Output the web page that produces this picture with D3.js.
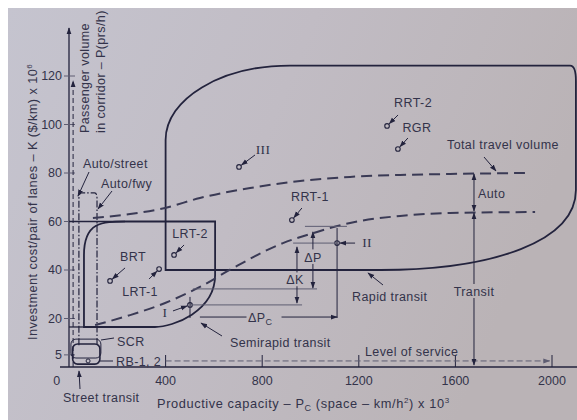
<!DOCTYPE html>
<html><head><meta charset="utf-8">
<script src="https://cdn.jsdelivr.net/npm/d3@7"></script>
<style>html,body{margin:0;padding:0;background:#fff;}svg{display:block}</style>
</head><body><svg id="c" width="577" height="420"></svg>
<script>
// ---------- data (chart units: Pc x10^3 space-km/h^2 , K $/km x10^6) ----------
const xTicks = [400, 800, 1200, 1600, 2000];
const yTicks = [5, 20, 40, 60, 80, 100, 120];
const totalTravelVolume = [[99,61.4],[253,63.1],[398,65.6],[542,69.7],[750,73.8],[957,76.7],[1164,78.4],[1371,79.2],[1578,79.6],[1888,80]];
const transitVolume = [[108,17.3],[253,21.4],[398,26.4],[542,33],[679,40.8],[886,51.1],[1027,55.7],[1164,59.4],[1371,62.3],[1578,63.5],[1930,63.9]];
const modeNames = ["BRT","LRT-1","LRT-2","I","II","III","RRT-1","RRT-2","RGR"];
const modePc    = [170, 373, 435, 501, 1110, 704, 923, 1317, 1362];
const modeK     = [35.5, 40.4, 46.2, 25.6, 51.1, 82.5, 60.6, 99.4, 89.9];
const rbPoint = [79, 2.5];
// region outlines (chart units)
const rapidTransit = [["M",400,40],["L",400,93.6],["C",400,110.5,629,124.3,915,124.3],["L",2075,124.3],["Q",2099,124.3,2099,118],["L",2099,73],["C",2099,52,1760,40,1290,40],["Z"]];
const semirapidTransit = [["M",605,60],["L",232,60],["C",139,60,62,60,62,46.2],["L",62,16.5],["L",356,16.5],["C",431,16.5,605,22.9,605,37.9],["Z"]];
const autoCorridor = [["M",41,9],["L",41,69.5],["Q",41,71.8,52,71.8],["L",106,71.8],["Q",116,71.8,116,69.5],["L",116,9]];
const streetSCR = [8, 132, 3.7, 11.5];
const streetRB  = [15, 128, 1.2, 9.5];
// incremental comparison I -> II
const levelP_I = 32.2, levelP_II = 58;
const levelOfService = [400, 1990, 2.5];

// ---------- scales ----------
const x = d3.scaleLinear().domain([0,2000]).range([69,552]);
const y = d3.scaleLinear().domain([0,120]).range([367,76]);

const svg = d3.select("#c");
const INK = "#23233d", TXT = "#33334a", GREY = "#5e5d72";
const FONT = "'Liberation Sans', Arial, sans-serif";

const defs = svg.append("defs");
const g = defs.append("linearGradient").attr("id","bg").attr("x1","0").attr("x2","1").attr("y1","0").attr("y2","0.3");
g.append("stop").attr("offset","0").attr("stop-color","#c5c4cf");
g.append("stop").attr("offset","0.5").attr("stop-color","#c1bcc4");
g.append("stop").attr("offset","1").attr("stop-color","#bab3b6");
function marker(id, col){
  defs.append("marker").attr("id",id).attr("viewBox","0 0 10 10").attr("refX",9).attr("refY",5)
    .attr("markerWidth",7).attr("markerHeight",7).attr("markerUnits","userSpaceOnUse").attr("orient","auto-start-reverse")
    .append("path").attr("d","M0,1.5L10,5L0,8.5Z").attr("fill",col);
}
marker("ah", INK); marker("ag", GREY);

svg.append("rect").attr("width",577).attr("height",420).attr("fill","#fff");
svg.append("rect").attr("x",8).attr("y",8).attr("width",569).attr("height",412).attr("fill","url(#bg)");

function outline(segs){
  const p = d3.path();
  segs.forEach(s=>{
    const c=s[0], v=s.slice(1);
    if(c==="M") p.moveTo(x(v[0]),y(v[1]));
    else if(c==="L") p.lineTo(x(v[0]),y(v[1]));
    else if(c==="Q") p.quadraticCurveTo(x(v[0]),y(v[1]),x(v[2]),y(v[3]));
    else if(c==="C") p.bezierCurveTo(x(v[0]),y(v[1]),x(v[2]),y(v[3]),x(v[4]),y(v[5]));
    else if(c==="Z") p.closePath();
  });
  return p.toString();
}
function seg(x1,y1,x2,y2,opt={}){
  const l = svg.append("line").attr("x1",x1).attr("y1",y1).attr("x2",x2).attr("y2",y2)
    .attr("stroke",opt.col||INK).attr("stroke-width",opt.w||1);
  if(opt.dash) l.attr("stroke-dasharray",opt.dash);
  if(opt.end) l.attr("marker-end",`url(#${opt.end})`);
  if(opt.start) l.attr("marker-start",`url(#${opt.start})`);
  return l;
}
function text(t,px,py,opt={}){
  return svg.append("text").attr("x",px).attr("y",py).text(t)
    .attr("font-family",opt.serif?"'Liberation Serif', 'Times New Roman', serif":FONT)
    .attr("font-size",opt.size||12.5).attr("fill",TXT).attr("text-anchor",opt.anchor||"start")
    .attr("letter-spacing",opt.ls==null?0.4:opt.ls);
}

// ---------- axes ----------
seg(x(0), y(0), x(0), 28, {w:1.3, end:"ah"});
seg(60, y(0), 577, y(0), {w:1.3});
yTicks.forEach(v=>{ seg(x(0)-5, y(v), x(0)+6, y(v), {col:GREY}); text(v, 62, y(v)+4, {anchor:"end", ls:0}); });
xTicks.forEach(v=>{ seg(x(v), y(0), x(v), y(0)-12, {col:INK}); text(v, x(v), 385, {anchor:"middle", ls:0}); });
text("0", 57, 385, {anchor:"middle"});
// passenger volume axis
seg(x(17), y(0), x(17), y(118), {col:INK, dash:"5,3", end:"ah"});

// y-axis titles
const yt = svg.append("text").attr("transform","translate(37,202) rotate(-90)").attr("text-anchor","middle")
  .attr("font-family",FONT).attr("font-size",12.8).attr("fill",TXT).attr("letter-spacing",0.4);
yt.append("tspan").text("Investment cost/pair of lanes – K ($/km) x 10");
yt.append("tspan").attr("dy",-5).attr("font-size",8).text("6");
text("Passenger volume",0,0).attr("transform","translate(89,133) rotate(-90)");
text("in corridor – P(prs/h)",0,0).attr("transform","translate(105,133) rotate(-90)");
// x-axis title
const xt = svg.append("text").attr("x",157).attr("y",408).attr("font-family",FONT).attr("font-size",12.8).attr("fill",TXT).attr("letter-spacing",0.6);
xt.append("tspan").text("Productive capacity – P");
xt.append("tspan").attr("dy",3).attr("font-size",9).text("C");
xt.append("tspan").attr("dy",-3).text(" (space – km/h");
xt.append("tspan").attr("dy",-5).attr("font-size",8).text("2");
xt.append("tspan").attr("dy",5).text(") x 10");
xt.append("tspan").attr("dy",-5).attr("font-size",8).text("3");

// ---------- regions ----------
svg.append("path").attr("d",outline(rapidTransit)).attr("fill","none").attr("stroke",INK).attr("stroke-width",1.8);
svg.append("path").attr("d",outline(semirapidTransit)).attr("fill","none").attr("stroke",INK).attr("stroke-width",1.8);
seg(x(0), y(60), x(232), y(60), {w:1.3});
seg(x(0), y(16.5), x(62), y(16.5), {w:1.3});
svg.append("path").attr("d",outline(autoCorridor)).attr("fill","none").attr("stroke",INK).attr("stroke-width",1.2).attr("stroke-dasharray","7,2,1.5,2");
[streetSCR, streetRB].forEach((r,i)=>{
  svg.append("rect").attr("x",x(r[0])).attr("y",y(r[3])).attr("width",x(r[1])-x(r[0])).attr("height",y(r[2])-y(r[3]))
    .attr("rx",5).attr("fill","none").attr("stroke",INK).attr("stroke-width",i?1.6:1);
});
svg.append("circle").attr("cx",x(rbPoint[0])).attr("cy",y(rbPoint[1])).attr("r",2).attr("fill","none").attr("stroke",INK);

// ---------- volume curves ----------
const line = d3.line().x(d=>x(d[0])).y(d=>y(d[1])).curve(d3.curveMonotoneX);
[totalTravelVolume, transitVolume].forEach(d=>{
  svg.append("path").attr("d",line(d)).attr("fill","none").attr("stroke","#3a3a55").attr("stroke-width",2).attr("stroke-dasharray","11,6");
});

// level of service
seg(x(levelOfService[0]), y(levelOfService[2]), x(levelOfService[1]), y(levelOfService[2]), {col:GREY, dash:"6,3", end:"ag"});
text("Level of service", 365, 356);

// ---------- modes ----------
const labelLayout = {
  "BRT":[15,-13,23,-20],"LRT-1":[-10,10,-19,27],"LRT-2":[10,-10,16,-17],"I":[-17,6,-25,12],
  "II":[18,0,30,4],"III":[16,-12,24,-13],"RRT-1":[10,-12,18,-19],"RRT-2":[11,-11,26,-19],"RGR":[10,-11,19,-17]
};
modeNames.forEach((n,i)=>{
  const cx=x(modePc[i]), cy=y(modeK[i]), L=labelLayout[n];
  svg.append("circle").attr("cx",cx).attr("cy",cy).attr("r",2.3).attr("fill","none").attr("stroke",INK).attr("stroke-width",1.1);
  const dx=L[0], dy=L[1], len=Math.hypot(dx,dy);
  seg(cx+dx, cy+dy, cx+dx*3/len, cy+dy*3/len, {end:"ah"});
  const roman = /^I+$/.test(n);
  text(n, cx+L[2], cy+L[3], {anchor:"middle", serif:roman, size:roman?13.5:12.5});
});

// ---------- incremental analysis I -> II ----------
const I = modeNames.indexOf("I"), II = modeNames.indexOf("II");
const pcI = modePc[I], pcII = modePc[II], kI = modeK[I], kII = modeK[II];
seg(x(977), y(levelP_II), x(1151), y(levelP_II), {col:GREY});
seg(x(928), y(kII), x(pcII), y(kII), {col:GREY});
seg(x(513), y(levelP_I), x(1027), y(levelP_I), {col:GREY});
seg(x(pcI), y(kI), x(965), y(kI), {col:GREY});
seg(x(pcII), y(57.3), x(pcII), y(20.2), {col:INK});
seg(x(pcI), y(28.9), x(pcI), y(20.2), {col:INK});
// ΔP
seg(x(1010), y(48.5), x(1010), y(55.7), {end:"ah"});
seg(x(1010), y(42.5), x(1010), y(32.6), {end:"ah"});
text("ΔP", x(1010), y(45.4)+5, {anchor:"middle"});
// ΔK
seg(x(944), y(39), x(944), y(49.5), {end:"ah"});
seg(x(944), y(33.3), x(944), y(26.4), {end:"ah"});
text("ΔK", x(936), y(36.3)+5, {anchor:"middle"});
// ΔPc
seg(x(542), y(20.6), x(735), y(20.6), {});
seg(x(880), y(20.6), x(pcII), y(20.6), {end:"ah"});
const dpc = text("ΔP", x(792), y(20.6)+5, {anchor:"middle"});
dpc.append("tspan").attr("dy",3).attr("font-size",9).text("C");

// ---------- annotations ----------
text("Total travel volume", 447, 149);
seg(484, 157, 496, 171, {end:"ah"});
const xA = x(1677);
seg(xA, y(80)+1, xA, y(63.9)-1, {start:"ah", end:"ah"});
text("Auto", 478, 198);
seg(xA, y(63.9)+1, xA, 284, {start:"ah"});
seg(xA, 298, xA, 365, {end:"ah"});
text("Transit", xA, 296, {anchor:"middle"});
text("Rapid transit", 352, 301);
seg(383, 285, 368, 273, {end:"ah"});
text("Semirapid transit", 230, 347);
seg(222, 336, 201, 323, {end:"ah"});
text("Auto/street", 83, 168);
seg(89, 172, 78, 196, {end:"ah"});
text("Auto/fwy", 101, 188);
seg(112, 191, 98, 209, {end:"ah"});
text("SCR", 117, 346);
seg(101, 340, 114, 338, {});
text("RB-1, 2", 116, 366);
seg(100, 361, 113, 361, {});
text("Street transit", 63, 402);
seg(80, 389, 79, 371, {end:"ah"});
</script></body></html>
